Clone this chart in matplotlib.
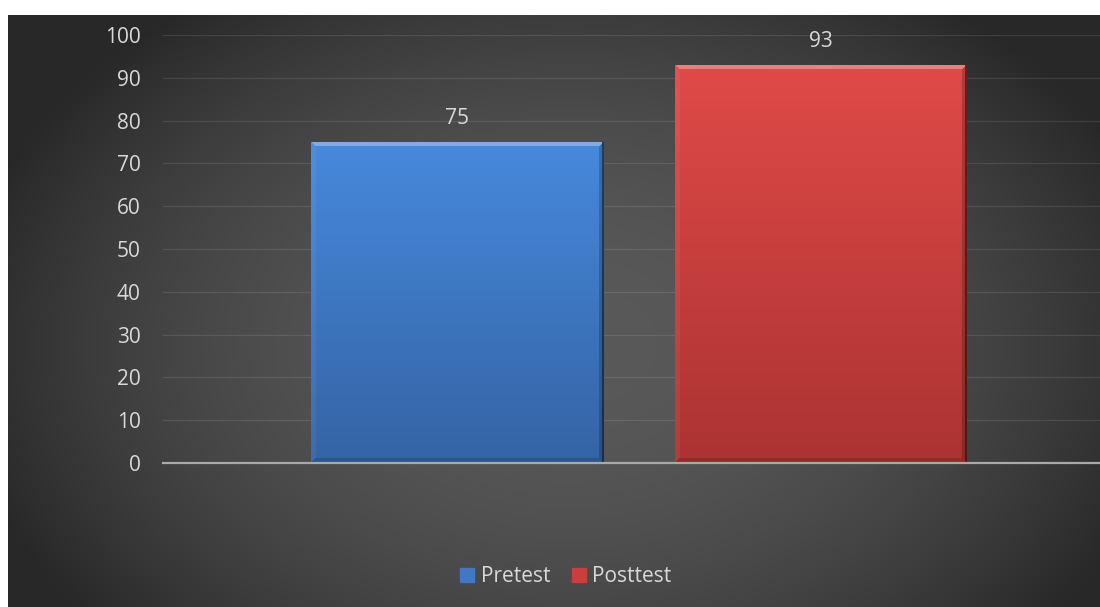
import numpy as np
import matplotlib
matplotlib.use('Agg')
import matplotlib.pyplot as plt
from matplotlib.colors import to_rgb
from matplotlib.patches import Patch

# ---- data ----
series = ['Pretest', 'Posttest']
values = [75, 93]
yticks = [0, 10, 20, 30, 40, 50, 60, 70, 80, 90, 100]
top_colors = ['#4789dc', '#e04a48']
bot_colors = ['#3464a5', '#ab3332']

FONT = 'Open Sans'
FS = 15

W, H = 1100, 607
fig = plt.figure(figsize=(W / 100, H / 100), dpi=100)
fig.patch.set_facecolor('white')

# ---- background (radial gradient) ----
bw, bh = W - 8, H - 15
bg = fig.add_axes([8 / W, 0, bw / W, bh / H])
bg.set_axis_off()
yy, xx = np.mgrid[0:bh, 0:bw]
r = np.sqrt(((xx - 560) / 620) ** 2 + ((yy - 330) / 430) ** 2)
r = np.clip(r, 0, 1)
edge, center = 40 / 255, 89 / 255
val = edge + (center - edge) * (1 - r ** 2)
bg.imshow(np.dstack([val, val, val]), aspect='auto', extent=(0, 1, 0, 1),
          interpolation='bilinear')
bg.set_xlim(0, 1)
bg.set_ylim(0, 1)

# ---- main axes ----
left_px, right_px_full = 163, 1115
y0_px, y100_px = 463, 35
ax = fig.add_axes([left_px / W, (H - y0_px) / H, (W - left_px) / W, (y0_px - y100_px) / H])
ax.set_facecolor('none')
full = right_px_full - left_px
ax.set_xlim(-0.5, -0.5 + (W - left_px) / full)
ax.set_ylim(0, 100)

bar_w = 292 / full
offset = (292 + 72) / 2 / full
xs = [-offset, offset]

for s in ['top', 'left', 'right']:
    ax.spines[s].set_visible(False)
ax.spines['bottom'].set_color('#a9a9a9')
ax.spines['bottom'].set_linewidth(1.6)
ax.spines['bottom'].set_zorder(5)
ax.set_xticks([])
ax.set_yticks(yticks)
ax.tick_params(axis='y', length=0, pad=16, labelcolor='#d9d9d9', labelsize=FS)
for lab in ax.get_yticklabels():
    lab.set_family(FONT)
ax.yaxis.grid(True, color='white', alpha=0.1, linewidth=0.9)
ax.set_axisbelow(True)


def bar_image(hp, wp, top, bot, bevel=5):
    top = np.array(to_rgb(top))
    bot = np.array(to_rgb(bot))
    t = np.linspace(0, 1, hp)[:, None, None]
    img = top * (1 - t) + bot * t
    img = np.broadcast_to(img, (hp, wp, 3)).copy()
    row = np.arange(hp)[:, None] * np.ones((1, wp))
    col = np.ones((hp, 1)) * np.arange(wp)[None, :]
    d = np.stack([row, hp - 1 - row, col, wp - 1 - col])
    side = np.argmin(d, axis=0)
    mind = np.min(d, axis=0)
    m = mind < bevel
    white = np.ones(3)
    adj = img.copy()
    st = m & (side == 0)
    adj[st] = img[st] * 0.7 + white * 0.3
    sb = m & (side == 1)
    adj[sb] = img[sb] * 0.85
    sl = m & (side == 2)
    adj[sl] = img[sl] * 0.95 + white * 0.05
    sr = m & (side == 3)
    adj[sr] = img[sr] * 0.8
    out = (col >= wp - 2)
    adj[out] = img[out] * 0.45
    return np.clip(adj, 0, 1)


bars = ax.bar(xs, values, width=bar_w, color=bot_colors, zorder=3, linewidth=0)
fig.canvas.draw()
for b, tc, bc, v in zip(bars, top_colors, bot_colors, values):
    x0, y0 = b.get_x(), b.get_y()
    (px0, py0), (px1, py1) = ax.transData.transform([(x0, y0), (x0 + b.get_width(), y0 + b.get_height())])
    hp, wp = int(round(py1 - py0)), int(round(px1 - px0))
    img = bar_image(hp, wp, tc, bc)
    im = ax.imshow(img, extent=(x0, x0 + b.get_width(), y0, y0 + b.get_height()),
                   aspect='auto', zorder=4, interpolation='nearest')
    im.set_clip_path(b)
    ax.annotate(str(v), (b.get_x() + b.get_width() / 2, v), xytext=(0, 17),
                textcoords='offset points', ha='center', va='center',
                color='#d9d9d9', fontsize=FS, family=FONT)
ax.set_xlim(-0.5, -0.5 + (W - left_px) / full)
ax.set_ylim(0, 100)

handles = [Patch(facecolor=c, edgecolor=to_rgb(c)) for c in ['#3f78c4', '#cc3d3c']]
leg = fig.legend(handles, series, loc='center', bbox_to_anchor=(566 / W, 1 - 577 / H),
                 ncol=2, frameon=False, handlelength=0.67, handleheight=0.67,
                 handletextpad=0.3, columnspacing=1.05,
                 prop={'family': FONT, 'size': FS})
for t in leg.get_texts():
    t.set_color('#d9d9d9')

fig.savefig('out.png', dpi=100, facecolor='white')
